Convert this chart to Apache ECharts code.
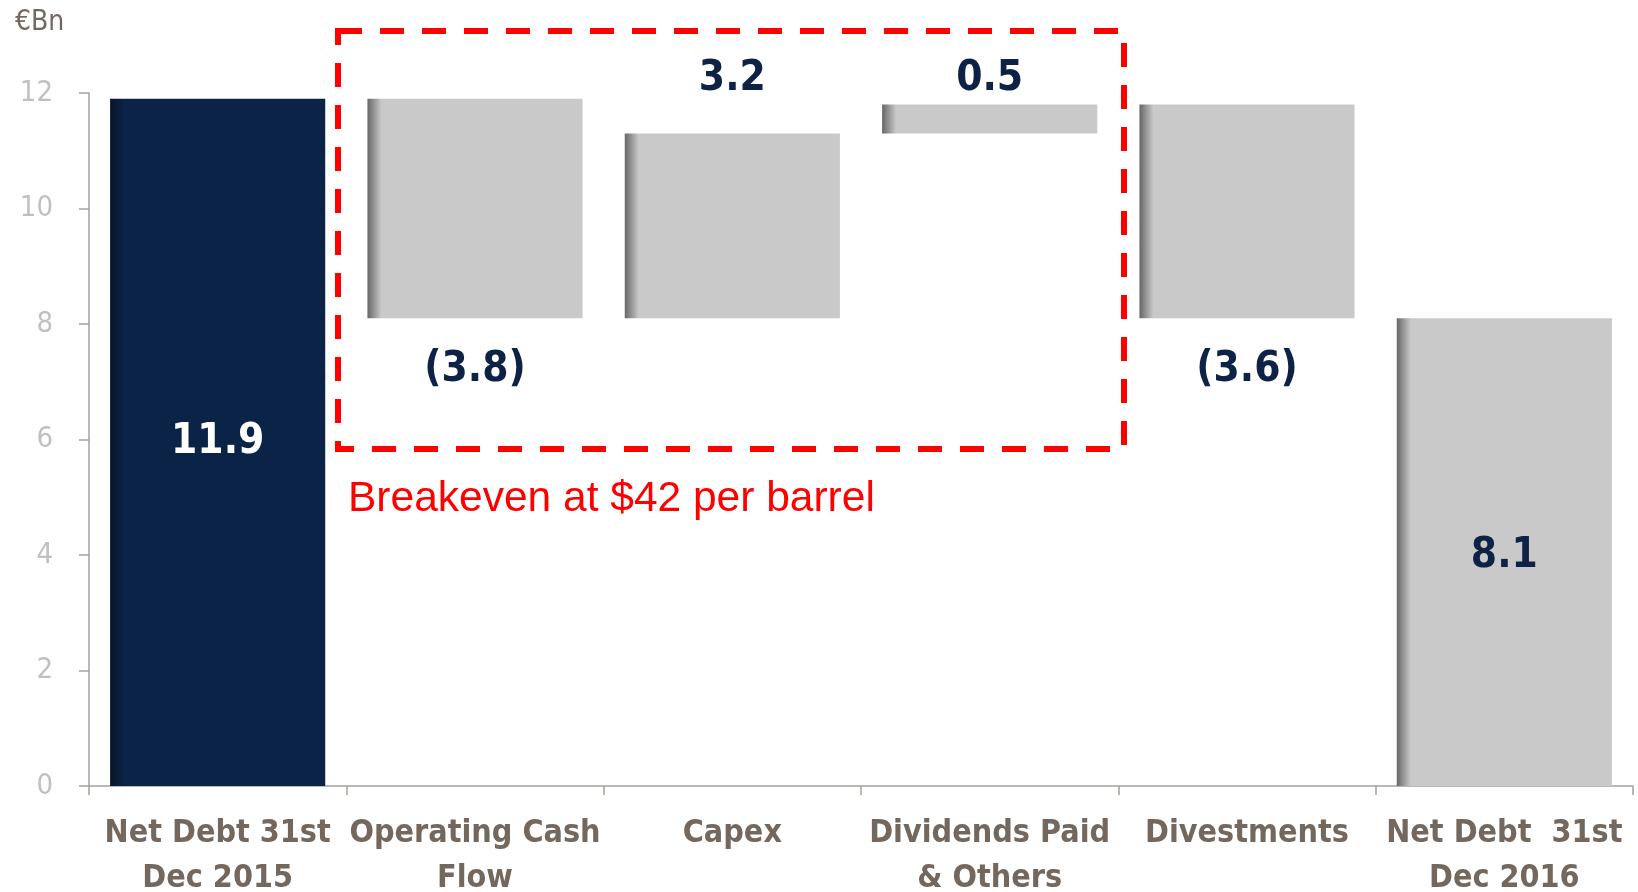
<!DOCTYPE html>
<html>
<head>
<meta charset="utf-8">
<script src="https://cdn.jsdelivr.net/npm/echarts@6/dist/echarts.min.js"></script>
<style>
  html, body { margin: 0; padding: 0; background: #ffffff; }
  #chart { width: 1638px; height: 892px; }
</style>
</head>
<body>
<div id="chart"></div>
<script>
// categories on the x axis
var categories = [
  "Net Debt 31st\nDec 2015",
  "Operating Cash\nFlow",
  "Capex",
  "Dividends Paid\n& Others",
  "Divestments",
  "Net Debt  31st\nDec 2016"
];
// waterfall: invisible base + visible step
var baseValues = [0, 8.1, 8.1, 11.3, 8.1, 0];
var stepValues = [11.9, 3.8, 3.2, 0.5, 3.7, 8.1];
var stepLabels = ["11.9", "(3.8)", "3.2", "0.5", "(3.6)", "8.1"];
var yTicks = [0, 2, 4, 6, 8, 10, 12];

var navy = "#0a2347";
var labelFont = "'DejaVu Sans Condensed', 'DejaVu Sans', sans-serif";

function grayFill() {
  return new echarts.graphic.LinearGradient(0, 0, 1, 0, [
    { offset: 0, color: "#676767" },
    { offset: 0.065, color: "#c9c9c9" },
    { offset: 1, color: "#c9c9c9" }
  ]);
}
function navyFill() {
  return new echarts.graphic.LinearGradient(0, 0, 1, 0, [
    { offset: 0, color: "#0a1426" },
    { offset: 0.065, color: navy },
    { offset: 1, color: navy }
  ]);
}

// label placement per bar
var labelPos = ["inside", "bottom", "top", "top", "bottom", "inside"];
var labelDist = [0, 31, 33, 4, 31, 0];
var labelShift = [[0, 0], [0, 0], [0, 0], [0, 0], [0, 0], [0, 4]];

var stepData = stepValues.map(function (v, i) {
  return {
    value: v,
    itemStyle: { color: i === 0 ? navyFill() : grayFill() },
    label: {
      show: true,
      position: labelPos[i],
      distance: labelDist[i],
      offset: labelShift[i],
      formatter: stepLabels[i],
      color: i === 0 ? "#ffffff" : "#0d2244",
      fontFamily: labelFont,
      fontWeight: "bold",
      fontSize: 42,
      lineHeight: 42
    }
  };
});

var chart = echarts.init(document.getElementById("chart"));

chart.setOption({
  backgroundColor: "#ffffff",
  animation: false,
  title: {
    text: "€Bn",
    left: 10,
    top: 4,
    textStyle: {
      color: "#74675f",
      fontFamily: labelFont,
      fontWeight: "normal",
      fontSize: 28
    }
  },
  grid: {
    left: 89, right: 5, top: 93, bottom: 106,
    containLabel: false,
    outerBoundsMode: "none"
  },
  xAxis: {
    type: "category",
    data: categories,
    axisLine: { lineStyle: { color: "#a6a19c", width: 1.5 } },
    axisTick: { show: true, length: 9, lineStyle: { color: "#a6a19c", width: 1.5 } },
    axisLabel: {
      interval: 0,
      margin: 25,
      color: "#73675e",
      fontFamily: labelFont,
      fontWeight: "bold",
      fontSize: 32,
      lineHeight: 45
    }
  },
  yAxis: {
    type: "value",
    min: yTicks[0],
    max: yTicks[yTicks.length - 1],
    interval: 2,
    axisLine: { show: true, lineStyle: { color: "#a6a19c", width: 1.5 } },
    axisTick: { show: true, length: 10, lineStyle: { color: "#a6a19c", width: 1.5 } },
    splitLine: { show: false },
    axisLabel: {
      margin: 36,
      color: "#c0c0c0",
      fontFamily: labelFont,
      fontSize: 29
    }
  },
  series: [
    {
      name: "base",
      type: "bar",
      stack: "w",
      barWidth: "83.6%",
      itemStyle: { color: "transparent" },
      emphasis: { disabled: true },
      data: baseValues
    },
    {
      name: "step",
      type: "bar",
      stack: "w",
      barWidth: "83.6%",
      emphasis: { disabled: true },
      data: stepData
    }
  ],
  graphic: [
    {
      type: "rect",
      shape: { x: 338, y: 31, width: 786, height: 418 },
      style: { fill: null, stroke: "#ff0000", lineWidth: 6, lineDash: [24, 18] },
      z: 10
    },
    {
      type: "text",
      x: 348,
      y: 499,
      style: {
        text: "Breakeven at $42 per barrel",
        fill: "#ff0000",
        font: "42.5px 'Liberation Sans', Arial, sans-serif",
        verticalAlign: "middle"
      },
      z: 10
    }
  ]
});
</script>
</body>
</html>
